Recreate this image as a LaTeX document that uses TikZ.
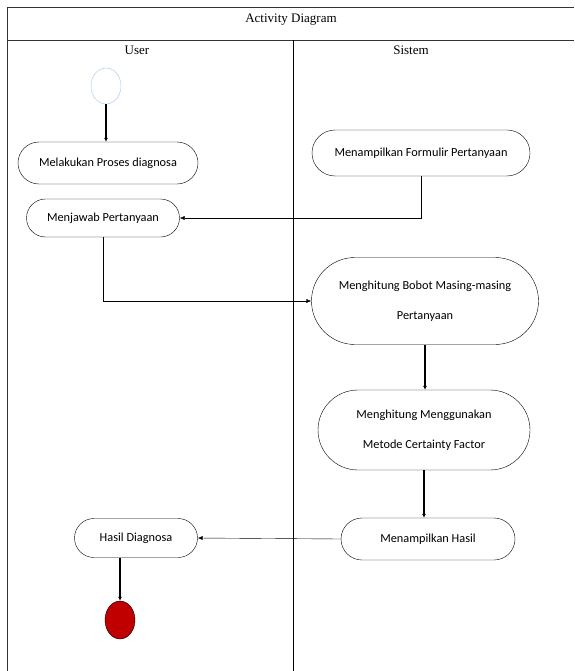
\documentclass[tikz,border=0pt]{standalone}
\usepackage{fontspec}
\setmainfont{Liberation Serif}
\newfontfamily\actfont{Carlito}
\usetikzlibrary{shapes.misc,shapes.geometric,arrows.meta}
\definecolor{startblue}{RGB}{157,195,230}
\definecolor{endred}{RGB}{192,0,0}
\begin{document}
\begin{tikzpicture}[x=1pt,y=-1pt,
  act/.style={rounded rectangle, draw, thin, align=center, inner sep=0pt,
    font=\actfont\fontsize{12.3}{30}\selectfont},
  flow/.style={-{Latex[length=5pt,width=4pt]}, thin},
  bold/.style={-{Latex[length=4pt,width=4pt]}, line width=2.5pt}]
  \useasboundingbox (0,0) rectangle (574,671);

  % swimlane frame
  \draw[thick, black!80] (7,671) -- (7,7) -- (574,7);
  \draw[thick, black!80] (7,40) -- (574,40);
  \draw (293,40) -- (293,671);
  \node[font=\fontsize{13}{15}\selectfont] (title) at (291,20) {Activity Diagram};
  \node[font=\fontsize{13}{15}\selectfont] (user) at (137,50) {User};
  \node[font=\fontsize{13}{15}\selectfont] (sistem) at (411,50) {Sistem};

  % start / end
  \node[ellipse, draw=startblue, minimum width=30, minimum height=36] (start) at (106,86) {};
  \node[ellipse, draw, fill=endred, minimum width=30, minimum height=38] (end) at (120,620) {};

  % activities
  \node[act, minimum width=180, minimum height=42] (proses) at (108,163) {Melakukan Proses diagnosa};
  \node[act, minimum width=153, minimum height=38] (jawab) at (103,218) {Menjawab Pertanyaan};
  \node[act, minimum width=218, minimum height=46] (formulir) at (421,153) {Menampilkan Formulir Pertanyaan};
  \node[act, minimum width=227, minimum height=87] (bobot) at (425,301) {Menghitung Bobot Masing-masing\\Pertanyaan};
  \node[act, minimum width=212, minimum height=80] (cf) at (424,430) {Menghitung Menggunakan\\Metode Certainty Factor};
  \node[act, minimum width=174, minimum height=42] (tampil) at (428,539) {Menampilkan Hasil};
  \node[act, minimum width=123, minimum height=39] (hasil) at (136,538) {Hasil Diagnosa};

  % connectors
  \draw[bold] (start.south) -- (start.south |- proses.north);
  \draw[flow] (formulir.south) |- (jawab.east);
  \draw[flow] (jawab.south) |- (bobot.west);
  \draw[bold] (bobot.south) -- (bobot.south |- cf.north);
  \draw[bold] (cf.south) -- (cf.south |- tampil.north);
  \draw[flow] (tampil.west) -- (hasil.east);
  \draw[bold] (end |- hasil.south) -- (end.north);
\end{tikzpicture}
\end{document}
